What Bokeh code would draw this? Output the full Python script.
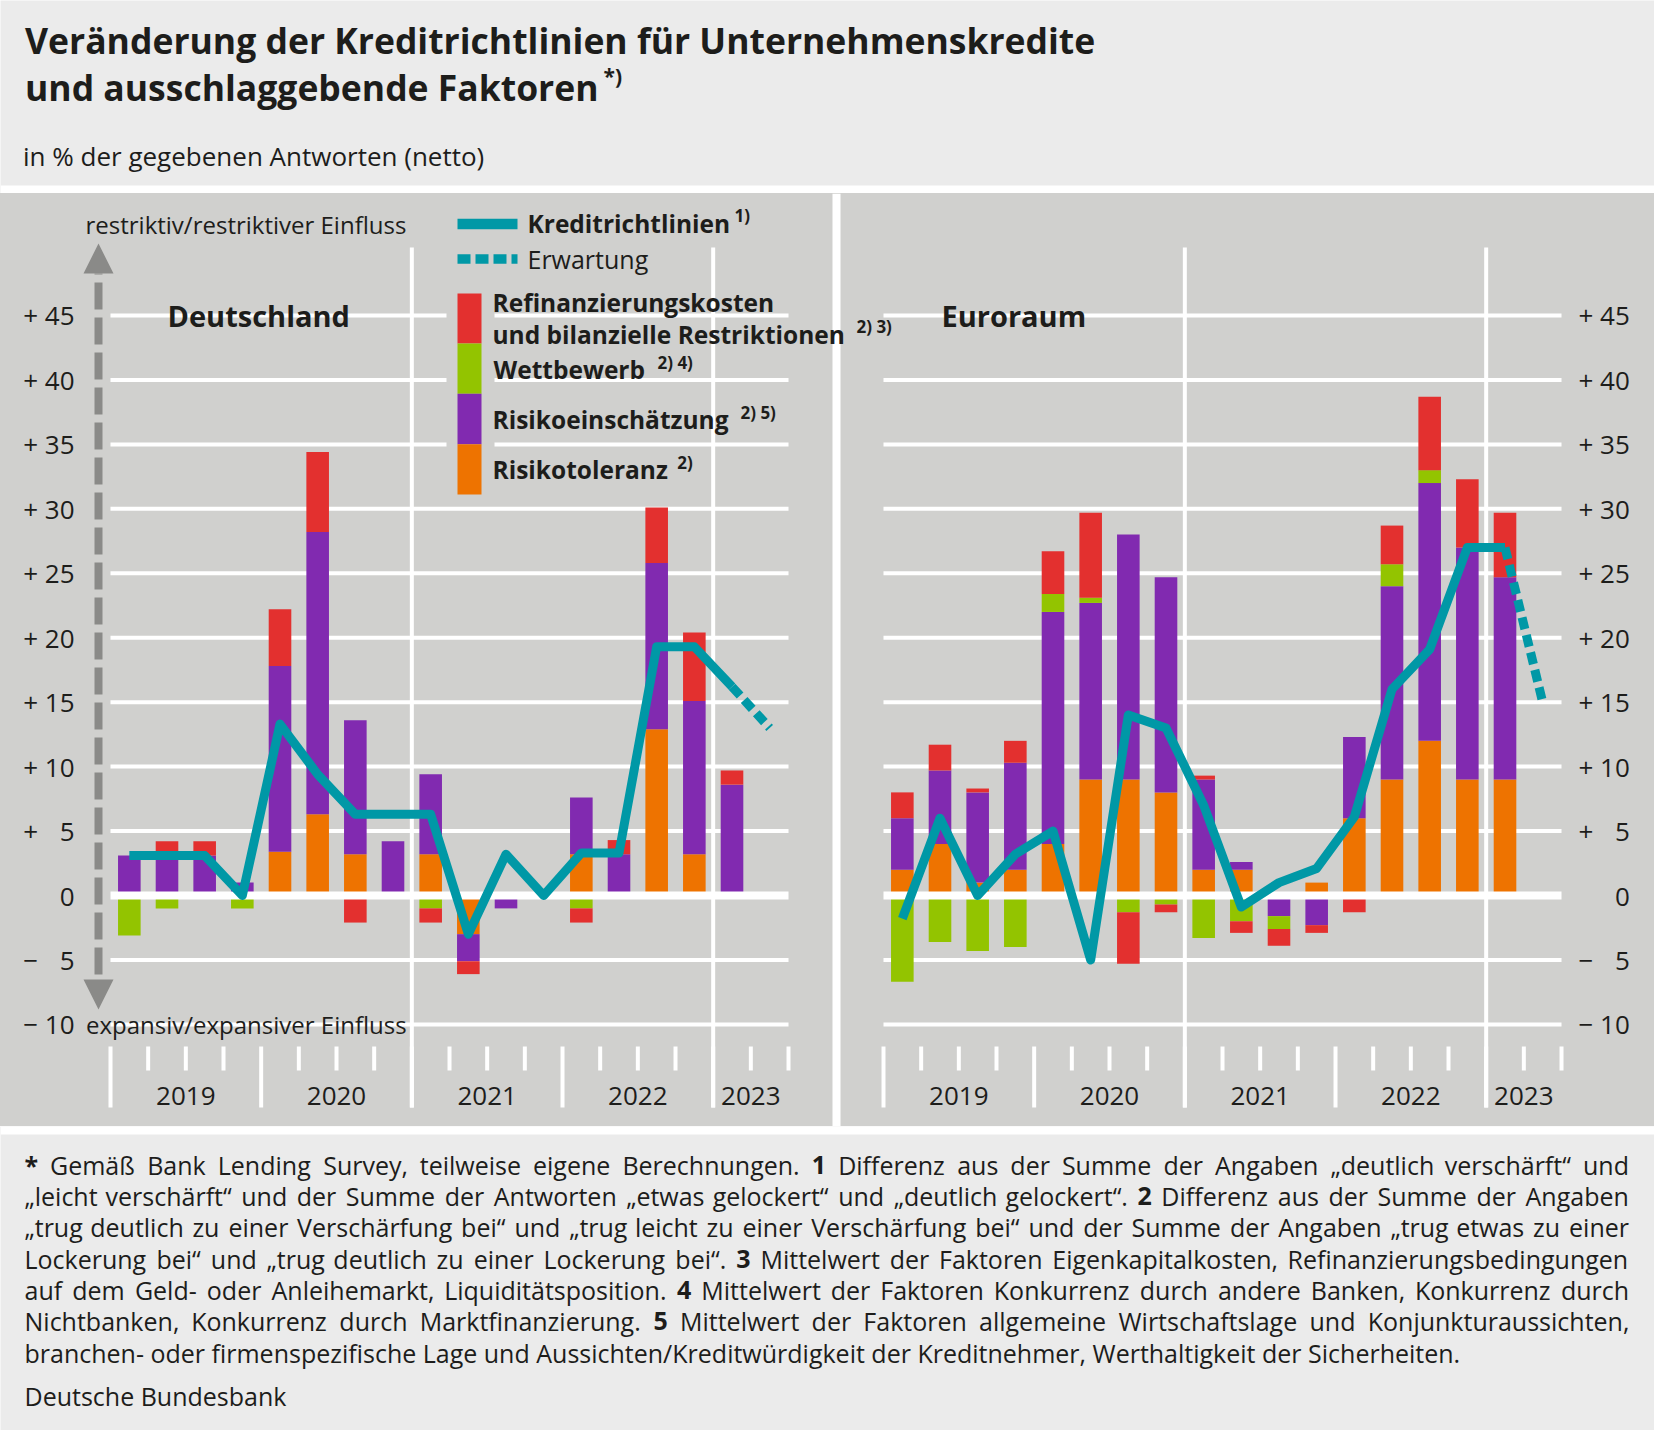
import numpy as np
from bokeh.plotting import figure
from bokeh.layouts import column
from bokeh.models import (Range1d, LinearAxis, FixedTicker, Label, BoxAnnotation,
                          Arrow, NormalHead)
from bokeh.core.properties import value
from bokeh.embed import file_html
from bokeh.resources import INLINE

# ---------------------------------------------------------------- data
QUARTERS = ["2019Q1", "2019Q2", "2019Q3", "2019Q4", "2020Q1", "2020Q2", "2020Q3", "2020Q4",
            "2021Q1", "2021Q2", "2021Q3", "2021Q4", "2022Q1", "2022Q2", "2022Q3", "2022Q4",
            "2023Q1"]
EXPECT_QUARTER = "2023Q2"
YEARS = ["2019", "2020", "2021", "2022", "2023"]
Y_TICKS = [-10, -5, 0, 5, 10, 15, 20, 25, 30, 35, 40, 45]
Y_LABELS_LEFT = ["\u2212 10", "\u2212 \u20075", "0", "+ \u20075", "+ 10", "+ 15", "+ 20",
                 "+ 25", "+ 30", "+ 35", "+ 40", "+ 45"]
Y_LABELS_RIGHT = ["\u2212 10", "\u2212 \u20075", "\u2007 \u20070", "+ \u20075", "+ 10", "+ 15",
                  "+ 20", "+ 25", "+ 30", "+ 35", "+ 40", "+ 45"]

# Deutschland
de_risikotoleranz = [0, 0, 0, 0, 3.4, 6.3, 3.2, 0, 3.2, -3.0, 0, 0, 3.2, 0, 12.9, 3.2, 0]
de_risikoeinschaetzung = [3.1, 3.1, 3.1, 1.0, 14.4, 21.9, 10.4, 4.2, 6.2, -2.1, -1.0, 0, 4.4,
                          3.2, 12.9, 11.9, 8.6]
de_wettbewerb = [-3.1, -1.0, 0, -1.0, 0, 0, 0, 0, -1.0, 0, 0, 0, -1.0, 0, 0, 0, 0]
de_refinanzierung = [0, 1.1, 1.1, 0, 4.4, 6.2, -2.1, 0, -1.1, -1.0, 0, 0, -1.1, 1.1, 4.3, 5.3, 1.1]
de_kreditrichtlinien = [3.1, 3.1, 3.1, 0.0, 13.3, 9.4, 6.3, 6.3, 6.3, -3.0, 3.2, 0.0, 3.3, 3.3,
                        19.3, 19.3, 16.2]
de_erwartung = 13.0

# Euroraum
eu_risikotoleranz = [2.0, 4.0, 1.0, 2.0, 4.0, 9.0, 9.0, 8.0, 2.0, 2.0, 0, 1.0, 6.0, 9.0, 12.0,
                     9.0, 9.0]
eu_risikoeinschaetzung = [4.0, 5.7, 7.0, 8.3, 18.0, 13.7, 19.0, 16.7, 7.0, 0.6, -1.6, -2.3, 6.3,
                          15.0, 20.0, 18.0, 15.7]
eu_wettbewerb = [-6.7, -3.6, -4.3, -4.0, 1.4, 0.4, -1.3, -0.7, -3.3, -2.0, -1.0, 0, 0, 1.7, 1.0,
                 0, 0]
eu_refinanzierung = [2.0, 2.0, 0.3, 1.7, 3.3, 6.6, -4.0, -0.6, 0.3, -0.9, -1.3, -0.6, -1.3, 3.0,
                     5.7, 5.3, 5.0]
eu_kreditrichtlinien = [-1.8, 6.0, 0.0, 3.2, 5.0, -5.0, 14.0, 13.0, 7.0, -0.9, 1.0, 2.1, 6.1,
                        16.0, 19.1, 27.0, 27.0]
eu_erwartung = 15.0

TITLE_1 = "Veränderung der Kreditrichtlinien für Unternehmenskredite"
TITLE_2 = "und ausschlaggebende Faktoren"
SUBTITLE = "in % der gegebenen Antworten (netto)"
FOOTNOTES = [
    "* Gemäß Bank Lending Survey, teilweise eigene Berechnungen. 1 Differenz aus der Summe der Angaben „deutlich verschärft“ und",
    "„leicht verschärft“ und der Summe der Antworten „etwas gelockert“ und „deutlich gelockert“. 2 Differenz aus der Summe der Angaben",
    "„trug deutlich zu einer Verschärfung bei“ und „trug leicht zu einer Verschärfung bei“ und der Summe der Angaben „trug etwas zu einer",
    "Lockerung bei“ und „trug deutlich zu einer Lockerung bei“. 3 Mittelwert der Faktoren Eigenkapitalkosten, Refinanzierungsbedingungen",
    "auf dem Geld- oder Anleihemarkt, Liquiditätsposition. 4 Mittelwert der Faktoren Konkurrenz durch andere Banken, Konkurrenz durch",
    "Nichtbanken, Konkurrenz durch Marktfinanzierung. 5 Mittelwert der Faktoren allgemeine Wirtschaftslage und Konjunkturaussichten,",
    "branchen- oder firmenspezifische Lage und Aussichten/Kreditwürdigkeit der Kreditnehmer, Werthaltigkeit der Sicherheiten.",
]
SOURCE = "Deutsche Bundesbank"

# ---------------------------------------------------------------- style
FONT = "Open Sans"
TXT = "#1d1d1b"
PANEL = "#d0d0ce"
BG = "#ebebeb"
RED = "#e3302f"
GREEN = "#93c400"
PURPLE = "#812ab0"
ORANGE = "#ee7300"
TEAL = "#0098a6"
ARROW_GREY = "#8a8a88"
STACK_COLORS = [ORANGE, PURPLE, GREEN, RED]

W, H = 1654, 1430
QPX = 37.667      # px per quarter
UPX = 12.889      # px per percentage point
DE_X0, EU_X0, ZERO_Y = 110, 883, 895
TOP_REF, BOT_REF = 193, 1126
FRAME_L, FRAME_R = 80, 1570
BL = 0.388        # baseline correction (em) for text placement


def dx(rx):
    return (rx - DE_X0) / QPX


def dy(ry):
    return (ZERO_Y - ry) / UPX


def base(y, size):
    return y - BL * size


EU_SHIFT = (EU_X0 - DE_X0) / QPX

# ---------------------------------------------------------------- header
header = figure(width=W, height=TOP_REF, x_range=Range1d(0, W),
                y_range=Range1d(TOP_REF, 0), x_axis_type=None, y_axis_type=None,
                output_backend="svg", toolbar_location=None, min_border=0, frame_align=False,
                background_fill_color=BG, border_fill_color=BG, outline_line_color=None)
header.text(x=[24.5, 24.5], y=[base(53.5, 35.5), base(100.5, 35.5)], text=[TITLE_1, TITLE_2],
            text_font=value(FONT), text_font_size="35.5px", text_font_style="bold",
            text_color=TXT, text_baseline="alphabetic")
header.text(x=[603], y=[base(84, 21)], text=["*)"], text_font=value(FONT),
            text_font_size="21px", text_font_style="bold", text_color=TXT,
            text_baseline="alphabetic")
header.text(x=[22.5], y=[base(166, 26)], text=[SUBTITLE], text_font=value(FONT),
            text_font_size="26px", text_color=TXT, text_baseline="alphabetic")
header.add_layout(BoxAnnotation(top=185, bottom=TOP_REF + 1, fill_color="white", fill_alpha=1,
                                line_color=None))

# ---------------------------------------------------------------- panels
p = figure(width=W, height=BOT_REF - TOP_REF,
           x_range=Range1d(dx(FRAME_L), dx(FRAME_R)), y_range=Range1d(dy(BOT_REF), dy(TOP_REF)),
           x_axis_type=None, y_axis_type=None, output_backend="svg", toolbar_location=None,
           min_border_left=FRAME_L, min_border_right=W - FRAME_R,
           min_border_top=0, min_border_bottom=0, frame_align=False,
           background_fill_color=PANEL, border_fill_color=None, outline_line_color=None,
           styles={"background-color": PANEL})
p.extra_x_ranges = {"eu": Range1d(dx(FRAME_L) - EU_SHIFT, dx(FRAME_R) - EU_SHIFT)}

for side, labels, standoff in (("left", Y_LABELS_LEFT, 6), ("right", Y_LABELS_RIGHT, 8)):
    ax = LinearAxis(ticker=FixedTicker(ticks=Y_TICKS),
                    major_label_overrides={t: s for t, s in zip(Y_TICKS, labels)},
                    axis_line_color=None, major_tick_line_color=None,
                    minor_tick_line_color=None, major_tick_in=0, major_tick_out=0,
                    major_label_standoff=standoff, major_label_text_font=FONT,
                    major_label_text_font_size="26px", major_label_text_color=TXT)
    p.add_layout(ax, side)

N = len(QUARTERS)
ALL_Q = QUARTERS + [EXPECT_QUARTER]
NQ = len(ALL_Q)
xs = np.arange(N) + 0.5
bounds = list(range(NQ + 1))
year_starts = [i for i, q in enumerate(ALL_Q) if q.endswith("Q1")]
long_ticks = [b for b in bounds if b in year_starts]
short_ticks = [b for b in bounds if b not in year_starts]
year_centers = []
for yr in YEARS:
    idx = [i for i, q in enumerate(ALL_Q) if q.startswith(yr)]
    year_centers.append((idx[0] + idx[-1] + 1) / 2)
vgrid = [i for i in year_starts if i > 0 and int(ALL_Q[i][:4]) % 2 == 1]
grid_y = [t for t in Y_TICKS if t != 0]

panels = [
    ("default", [de_risikotoleranz, de_risikoeinschaetzung, de_wettbewerb, de_refinanzierung],
     de_kreditrichtlinien, de_erwartung),
    ("eu", [eu_risikotoleranz, eu_risikoeinschaetzung, eu_wettbewerb, eu_refinanzierung],
     eu_kreditrichtlinien, eu_erwartung),
]

for rng, series, kr, erw in panels:
    p.segment(x0=0, x1=NQ, y0=grid_y, y1=grid_y, line_color="white", line_width=4,
              x_range_name=rng)
    p.segment(x0=vgrid, x1=vgrid, y0=dy(247), y1=dy(1107), line_color="white", line_width=4,
              x_range_name=rng)
    p.segment(x0=long_ticks, x1=long_ticks, y0=dy(1046), y1=dy(1107), line_color="white",
              line_width=4, x_range_name=rng)
    p.segment(x0=short_ticks, x1=short_ticks, y0=dy(1046), y1=dy(1070), line_color="white",
              line_width=4, x_range_name=rng)
    p.text(x=year_centers, y=dy(base(1106, 26)), text=YEARS, text_font=value(FONT),
           text_font_size="26px", text_color=TXT, text_align="center",
           text_baseline="alphabetic", x_range_name=rng)
    pos = np.zeros(N)
    neg = np.zeros(N)
    for vals, col in zip(series, STACK_COLORS):
        v = np.asarray(vals, dtype=float)
        bottom = np.where(v >= 0, pos, neg + v)
        top = np.where(v >= 0, pos + v, neg)
        pos = pos + np.clip(v, 0, None)
        neg = neg + np.clip(v, None, 0)
        m = v != 0
        p.vbar(x=xs[m], bottom=bottom[m], top=top[m], width=0.6, fill_color=col,
               line_color=None, x_range_name=rng)
    p.segment(x0=0, x1=NQ, y0=0, y1=0, line_color="white", line_width=8, x_range_name=rng)
    p.line(x=xs, y=kr, line_color=TEAL, line_width=9, line_join="round", x_range_name=rng)
    p.line(x=[xs[-1], xs[-1] + 1], y=[kr[-1], erw], line_color=TEAL, line_width=9,
           line_dash="12 6", x_range_name=rng)

# separator between the two panels
p.add_layout(BoxAnnotation(left=dx(832), right=dx(840), fill_color="white", fill_alpha=1,
                           line_color=None))

bg_labels, fg_labels = [], []


def add_label(text, rx, ry, size, bold=False, pad=0, bg=True):
    common = dict(x=dx(rx), y=dy(base(ry, size)), text=text, text_font=FONT,
                  text_font_size=f"{size}px",
                  text_font_style="bold" if bold else "normal", text_align="left",
                  text_baseline="alphabetic")
    if bg:
        bg_labels.append(Label(**common, text_color=PANEL, text_alpha=0.0,
                               background_fill_color=PANEL, background_fill_alpha=1.0,
                               padding=pad, border_line_color=None))
    fg_labels.append(Label(**common, text_color=TXT))


add_label("restriktiv/restriktiver Einfluss", 85, 233, 24, bg=False)
add_label("expansiv/expansiver Einfluss", 85.5, 1033, 24, pad=5)
add_label("Deutschland", 167, 326, 29, bold=True, pad=13)
add_label("Euroraum", 941, 326, 29, bold=True, pad=13)
add_label("Kreditrichtlinien", 527, 233, 24.5, bold=True, pad=4)
add_label("1)", 734, 222, 17, bold=True, pad=2)
add_label("Erwartung", 527, 268, 25, pad=4)
add_label("Refinanzierungskosten", 492, 311.7, 24.5, bold=True, pad=12)
add_label("und bilanzielle Restriktionen", 492, 343.3, 24.5, bold=True, pad=12)
add_label("2) 3)", 856, 333, 17, bold=True, pad=12)
add_label("Wettbewerb", 493, 378.3, 24.5, bold=True, pad=12)
add_label("2) 4)", 657, 368.3, 17, bold=True, pad=12)
add_label("Risikoeinschätzung", 492, 428.3, 24.5, bold=True, pad=12)
add_label("2) 5)", 740, 418.3, 17, bold=True, pad=12)
add_label("Risikotoleranz", 492, 478.3, 24.5, bold=True, pad=12)
add_label("2)", 676.7, 468.3, 17, bold=True, pad=12)

# legend key column background
p.add_layout(BoxAnnotation(left=dx(446), right=dx(494), top=dy(280), bottom=dy(500),
                           fill_color=PANEL, fill_alpha=1, line_color=None))
for lab in bg_labels:
    p.add_layout(lab)

p.add_layout(Arrow(start=NormalHead(size=30, fill_color=ARROW_GREY, line_color=None),
                   end=NormalHead(size=30, fill_color=ARROW_GREY, line_color=None),
                   x_start=dx(98), y_start=dy(1009), x_end=dx(98), y_end=dy(243),
                   line_color=ARROW_GREY, line_width=8, line_dash="27 8"))
p.add_layout(Arrow(start=None, end=None, x_start=dx(457), y_start=dy(223.5), x_end=dx(517),
                   y_end=dy(223.5), line_color=TEAL, line_width=10.5))
p.add_layout(Arrow(start=None, end=None, x_start=dx(457), y_start=dy(258.5), x_end=dx(517),
                   y_end=dy(258.5), line_color=TEAL, line_width=9.5, line_dash="13 5"))
for col, top_ref, bot_ref in ((RED, 293, 343), (GREEN, 343, 393.3), (PURPLE, 393.3, 443.7),
                              (ORANGE, 443.7, 494)):
    p.add_layout(BoxAnnotation(left=dx(457), right=dx(481), top=dy(top_ref),
                               bottom=dy(bot_ref), fill_color=col, fill_alpha=1,
                               line_color=None))
for lab in fg_labels:
    p.add_layout(lab)

# ---------------------------------------------------------------- footer
FOOT_H = H - BOT_REF
footer = figure(width=W, height=FOOT_H, x_range=Range1d(0, W), y_range=Range1d(FOOT_H, 0),
                x_axis_type=None, y_axis_type=None, output_backend="svg",
                toolbar_location=None, min_border=0, frame_align=False,
                background_fill_color=BG, border_fill_color=BG, outline_line_color=None)
footer.add_layout(BoxAnnotation(top=-1, bottom=8, fill_color="white", fill_alpha=1,
                                line_color=None))

W_REG = {' ': 532, 'a': 1139, 'b': 1255, 'c': 975, 'd': 1255, 'e': 1149, 'f': 694, 'g': 1122,
         'h': 1257, 'i': 518, 'j': 518, 'k': 1075, 'l': 518, 'm': 1905, 'n': 1257, 'o': 1237,
         'p': 1255, 'q': 1255, 'r': 836, 's': 977, 't': 723, 'u': 1257, 'v': 1026, 'w': 1593,
         'x': 1073, 'y': 1028, 'z': 977, 'A': 1296, 'B': 1327, 'C': 1292, 'D': 1493, 'E': 1139,
         'F': 1057, 'G': 1491, 'H': 1511, 'I': 571, 'J': 547, 'K': 1257, 'L': 1098, 'M': 1849,
         'N': 1544, 'O': 1595, 'P': 1233, 'Q': 1595, 'R': 1266, 'S': 1124, 'T': 1133,
         'U': 1491, 'V': 1219, 'W': 1896, 'X': 1182, 'Y': 1147, 'Z': 1169, 'ä': 1139,
         'ö': 1237, 'ü': 1257, 'ß': 1298, ',': 502, '.': 545, '-': 659, '/': 752, '(': 606,
         ')': 606, '*': 1104, '%': 1681, '„': 727, '“': 727, ':': 545}
BOLD_WORDS = {"*", "1", "2", "3", "4", "5"}
FS = 25
L_X, R_X = 24, 1628.5


def word_w(wd):
    return sum(W_REG.get(ch, 1171 if ch.isdigit() else 1100) for ch in wd) / 2048 * FS


reg_x, reg_y, reg_t, b_x, b_y, b_t = [], [], [], [], [], []
for k, line in enumerate(FOOTNOTES):
    yb = base(48 + 31.3 * k, FS)
    if k == len(FOOTNOTES) - 1:
        reg_x.append(L_X); reg_y.append(yb); reg_t.append(line)
        continue
    words = line.split(" ")
    widths = [word_w(w_) for w_ in words]
    gap = (R_X - L_X - sum(widths)) / (len(words) - 1)
    x = L_X
    for wd, wdt in zip(words, widths):
        if wd in BOLD_WORDS:
            b_x.append(x); b_y.append(yb); b_t.append(wd)
        else:
            reg_x.append(x); reg_y.append(yb); reg_t.append(wd)
        x += wdt + gap
reg_x.append(L_X); reg_y.append(base(279, FS)); reg_t.append(SOURCE)

footer.text(x=reg_x, y=reg_y, text=reg_t, text_font=value(FONT), text_font_size=f"{FS}px",
            text_color=TXT, text_baseline="alphabetic")
footer.text(x=b_x, y=b_y, text=b_t, text_font=value(FONT), text_font_size=f"{FS}px",
            text_font_style="bold", text_color=TXT, text_baseline="alphabetic")

layout = column(header, p, footer)
open("out.html", "w").write(file_html(layout, INLINE))
